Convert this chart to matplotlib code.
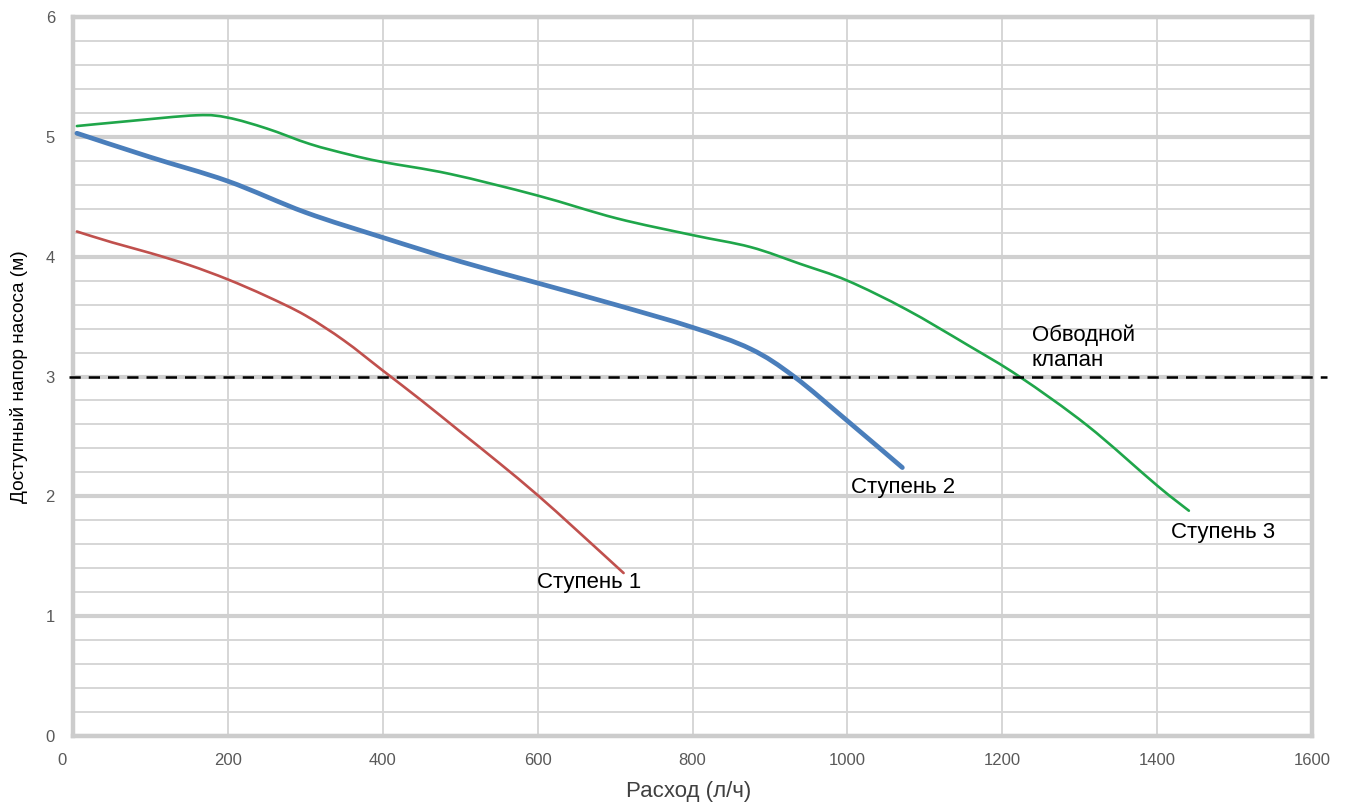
import matplotlib
matplotlib.use("Agg")
import matplotlib.pyplot as plt
from matplotlib.ticker import MultipleLocator
from matplotlib.path import Path
from matplotlib.patches import PathPatch
import matplotlib.transforms as mtransforms

plt.rcParams['font.family'] = ['Liberation Sans', 'DejaVu Sans']

# ---- data ----
stage1_x = [5, 50, 100, 150, 200, 250, 300, 350, 400, 450, 500, 550, 600, 650, 711]
stage1_y = [4.21, 4.12, 4.03, 3.93, 3.81, 3.67, 3.51, 3.30, 3.05, 2.80, 2.54, 2.28, 2.01, 1.72, 1.36]

stage2_x = [5, 100, 200, 300, 400, 500, 600, 700, 800, 875, 931, 1000, 1071]
stage2_y = [5.03, 4.83, 4.63, 4.37, 4.16, 3.96, 3.78, 3.60, 3.41, 3.23, 3.00, 2.63, 2.24]

stage3_x = [5, 70, 160, 200, 250, 306, 358, 400, 487, 600, 702, 800, 875, 939,
            1000, 1076, 1156, 1222, 1310, 1400, 1441]
stage3_y = [5.09, 5.13, 5.18, 5.16, 5.07, 4.94, 4.85, 4.79, 4.69, 4.51, 4.32, 4.18,
            4.08, 3.94, 3.80, 3.56, 3.26, 3.00, 2.59, 2.09, 1.88]

bypass_level = 3.0
bypass_x = [-5, 1620]

labels = ["Ступень 1", "Ступень 2", "Ступень 3"]
label_pos = [(666, 1.28), (1072, 2.07), (1485, 1.70)]
bypass_label = "Обводной\nклапан"
bypass_label_pos = (1238, 3.24)

x_ticks = [0, 200, 400, 600, 800, 1000, 1200, 1400, 1600]
y_ticks = [0, 1, 2, 3, 4, 5, 6]


def smooth_path(xs, ys, t=1/6):
    """Catmull-Rom style cubic Bezier path through the given points (Excel-like smoothing)."""
    pts = list(zip(xs, ys))
    verts = [pts[0]]
    codes = [Path.MOVETO]
    n = len(pts)
    for i in range(n - 1):
        p0 = pts[i - 1] if i > 0 else pts[i]
        p1 = pts[i]
        p2 = pts[i + 1]
        p3 = pts[i + 2] if i + 2 < n else pts[i + 1]
        c1 = (p1[0] + (p2[0] - p0[0]) * t, p1[1] + (p2[1] - p0[1]) * t)
        c2 = (p2[0] - (p3[0] - p1[0]) * t, p2[1] - (p3[1] - p1[1]) * t)
        verts += [c1, c2, p2]
        codes += [Path.CURVE4] * 3
    return Path(verts, codes)


# ---- figure ----
fig = plt.figure(figsize=(13.45, 8.05), dpi=100)
ax = fig.add_axes([73/1345, 1-736/805, (1312-73)/1345, (736-17)/805])

ax.set_xlim(0, 1600)
ax.set_ylim(0, 6)
ax.set_xticks(x_ticks)
ax.set_yticks(y_ticks)
ax.yaxis.set_minor_locator(MultipleLocator(0.2))

ax.grid(which='major', axis='y', color='#d0d0d0', linewidth=3.0, zorder=0)
ax.grid(which='minor', axis='y', color='#d6d6d6', linewidth=1.4, zorder=0)
ax.grid(which='major', axis='x', color='#d6d6d6', linewidth=1.4, zorder=0)
ax.set_axisbelow(True)

for s in ax.spines.values():
    s.set_color('#cccccc')
    s.set_linewidth(3.2)

ax.tick_params(which='both', length=0)
ax.tick_params(axis='x', pad=12, labelsize=12, labelcolor='#595959')
ax.tick_params(axis='y', pad=13, labelsize=12, labelcolor='#595959')

# shift "0" x-label slightly left as in reference
for lbl in ax.get_xticklabels():
    if lbl.get_text() == '0':
        lbl.set_transform(lbl.get_transform() + mtransforms.ScaledTranslation(-11/100, 0, fig.dpi_scale_trans))

for xs, ys, col, lw in [(stage1_x, stage1_y, '#c0504d', 1.9),
                        (stage2_x, stage2_y, '#4a7ebb', 3.4),
                        (stage3_x, stage3_y, '#1fa64a', 1.9)]:
    patch = PathPatch(smooth_path(xs, ys), facecolor='none', edgecolor=col, linewidth=lw,
                      capstyle='round', joinstyle='round', transform=ax.transData, zorder=3)
    ax.add_patch(patch)

ax.plot(bypass_x, [bypass_level, bypass_level], color='black', linewidth=1.8,
        dashes=(4.5, 3.2), clip_on=False, zorder=4)

for txt, (x, y) in zip(labels, label_pos):
    ax.text(x, y, txt, ha='center', va='center', fontsize=16, color='black')
ax.text(bypass_label_pos[0], bypass_label_pos[1], bypass_label, ha='left', va='center',
        fontsize=16, color='black', linespacing=1.3)

ax.set_xlabel("Расход (л/ч)", fontsize=16, color='#404040')
ax.set_ylabel("Доступный напор насоса (м)", fontsize=13.7, color='black')
ax.xaxis.set_label_coords(0.497, -0.063)
ax.yaxis.set_label_coords(-0.036, 0.5)

fig.savefig("out.png", dpi=100)
